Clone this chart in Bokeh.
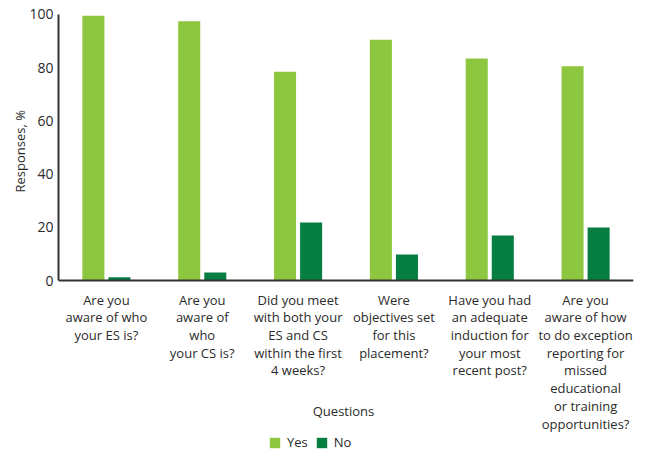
from bokeh.plotting import figure
from bokeh.models import (ColumnDataSource, FactorRange, Range1d, Legend, LegendItem,
                          Label, Span, Title)
from bokeh.core.properties import value
from bokeh.transform import dodge
from bokeh.embed import file_html
from bokeh.resources import INLINE

questions = [
    "Are you\naware of who\nyour ES is?",
    "Are you\naware of\nwho\nyour CS is?",
    "Did you meet\nwith both your\nES and CS\nwithin the first\n4 weeks?",
    "Were\nobjectives set\nfor this\nplacement?",
    "Have you had\nan adequate\ninduction for\nyour most\nrecent post?",
    "Are you\naware of how\nto do exception\nreporting for\nmissed\neducational\nor training\nopportunities?",
]
yes_values = [99.5, 97.5, 78.5, 90.5, 83.5, 80.5]
no_values = [1.2, 3.0, 21.8, 9.8, 16.9, 19.9]
y_ticks = [0, 20, 40, 60, 80, 100]

FONT = "Open Sans"
TXT = "#2b2b2b"
YES_C = "#8DC63F"
NO_C = "#067E41"

src = ColumnDataSource(dict(q=questions, yes=yes_values, no=no_values))

# frame spans the whole height; y=0 sits 280px from the top, y=100 at 14px
p = figure(
    frame_width=575, frame_height=454,
    x_range=FactorRange(factors=questions),
    y_range=Range1d(-65.41, 105.26),
    x_axis_location=None,
    output_backend="svg", toolbar_location=None,
    min_border_left=58, min_border_right=4, min_border_top=0, min_border_bottom=0,
)
p.outline_line_color = None
p.xgrid.grid_line_color = None
p.ygrid.grid_line_color = None

r_yes = p.vbar(x=dodge("q", -0.136, range=p.x_range), top="yes", width=0.23,
               source=src, color=YES_C, line_color=None)
r_no = p.vbar(x=dodge("q", 0.136, range=p.x_range), top="no", width=0.23,
              source=src, color=NO_C, line_color=None)

# x axis line at y = 0
p.add_layout(Span(location=0, dimension="width", line_color="#333333", line_width=2))

# category labels under the axis
p.text(x="q", y=0, text="q", source=src, y_offset=10,
       text_align="center", text_baseline="top",
       text_font=value(FONT), text_font_size="13px", text_color=TXT,
       text_line_height=0.985)

ax = p.yaxis[0]
ax.bounds = (0, 100)
ax.ticker = y_ticks
ax.axis_line_color = "#333333"
ax.axis_line_width = 2
ax.major_tick_line_color = None
ax.minor_tick_line_color = None
ax.major_tick_in = 0
ax.major_tick_out = 0
ax.major_label_standoff = 5
ax.major_label_text_font = FONT
ax.major_label_text_font_size = "14px"
ax.major_label_text_color = TXT

# y-axis title, centred on the 0..100 span
p.add_layout(Title(text="Responses, %", align="left", offset=262, standoff=-4,
                   text_font=FONT, text_font_size="13px", text_color=TXT,
                   text_font_style="normal"), "left")

p.add_layout(Label(x=285, y=44, x_units="screen", y_units="screen", text="Questions",
                   text_font=FONT, text_font_size="13px", text_color=TXT,
                   text_align="center", text_baseline="middle"))

legend = Legend(items=[LegendItem(label="Yes", renderers=[r_yes]),
                       LegendItem(label="No", renderers=[r_no])],
                orientation="horizontal", location=(210, 3),
                glyph_width=13, glyph_height=13, label_height=14,
                label_standoff=6, spacing=7, padding=0, margin=0,
                border_line_color=None, background_fill_alpha=0,
                label_text_font=FONT, label_text_font_size="13px", label_text_color=TXT,
                label_text_baseline="middle")
p.add_layout(legend, "center")

open("out.html", "w").write(file_html(p, INLINE))
